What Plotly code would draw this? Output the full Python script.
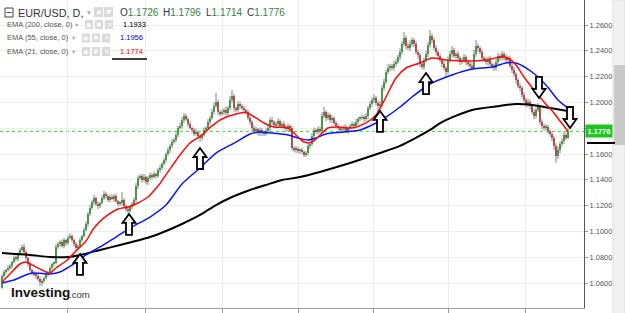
import plotly.graph_objects as go

# ---------------- data ----------------
FIRST_OPEN = 1.0565
CLOSE = [
    1.0655, 1.0686, 1.0702, 1.0717, 1.0732, 1.0763, 1.0795, 1.0787, 1.0826, 1.0857,
    1.0880, 1.0841, 1.0795, 1.0748, 1.0702, 1.0679, 1.0663, 1.0655, 1.0632, 1.0608,
    1.0616, 1.0640, 1.0671, 1.0686, 1.0717, 1.0748, 1.0756, 1.0880, 1.0903, 1.0919,
    1.0887, 1.0934, 1.0911, 1.0950, 1.0965, 1.0934, 1.0903, 1.0872, 1.0887, 1.0934,
    1.0965, 1.1012, 1.1058, 1.1136, 1.1182, 1.1228, 1.1260, 1.1213, 1.1197, 1.1221,
    1.1260, 1.1291, 1.1275, 1.1244, 1.1267, 1.1252, 1.1275, 1.1236, 1.1213, 1.1221,
    1.1244, 1.1197, 1.1174, 1.1159, 1.1190, 1.1213, 1.1244, 1.1353, 1.1415, 1.1430,
    1.1399, 1.1423, 1.1384, 1.1415, 1.1438, 1.1423, 1.1446, 1.1430, 1.1477, 1.1492,
    1.1523, 1.1554, 1.1601, 1.1632, 1.1663, 1.1694, 1.1709, 1.1748, 1.1802, 1.1818,
    1.1864, 1.1895, 1.1872, 1.1833, 1.1802, 1.1787, 1.1756, 1.1771, 1.1740, 1.1725,
    1.1748, 1.1787, 1.1802, 1.1849, 1.1880, 1.1926, 1.1973, 1.2004, 1.1926, 1.1911,
    1.1926, 1.1942, 1.1918, 1.1957, 1.2019, 1.2050, 1.1957, 1.1942, 1.1988, 1.1973,
    1.1957, 1.1942, 1.1926, 1.1880, 1.1849, 1.1802, 1.1779, 1.1794, 1.1763, 1.1787,
    1.1763, 1.1756, 1.1779, 1.1802, 1.1864, 1.1849, 1.1825, 1.1833, 1.1856, 1.1818,
    1.1833, 1.1810, 1.1794, 1.1818, 1.1802, 1.1647, 1.1632, 1.1640, 1.1624, 1.1632,
    1.1616, 1.1593, 1.1609, 1.1663, 1.1678, 1.1740, 1.1787, 1.1771, 1.1794, 1.1779,
    1.1895, 1.1926, 1.1880, 1.1903, 1.1864, 1.1880, 1.1841, 1.1818, 1.1802, 1.1787,
    1.1794, 1.1810, 1.1779, 1.1802, 1.1818, 1.1833, 1.1818, 1.1849, 1.1872, 1.1880,
    1.1887, 1.1872, 1.1895, 1.1957, 1.1988, 1.2019, 1.2035, 1.1996, 1.1973, 1.1988,
    1.2112, 1.2159, 1.2236, 1.2267, 1.2283, 1.2267, 1.2298, 1.2314, 1.2352, 1.2391,
    1.2453, 1.2500, 1.2438, 1.2422, 1.2453, 1.2484, 1.2453, 1.2391, 1.2368, 1.2298,
    1.2275, 1.2329, 1.2376, 1.2445, 1.2515, 1.2484, 1.2422, 1.2391, 1.2360, 1.2329,
    1.2298, 1.2267, 1.2236, 1.2329, 1.2376, 1.2407, 1.2360, 1.2376, 1.2345, 1.2314,
    1.2329, 1.2352, 1.2314, 1.2298, 1.2283, 1.2267, 1.2376, 1.2438, 1.2422, 1.2391,
    1.2345, 1.2329, 1.2314, 1.2337, 1.2298, 1.2283, 1.2267, 1.2314, 1.2360, 1.2345,
    1.2376, 1.2352, 1.2329, 1.2345, 1.2283, 1.2252, 1.2221, 1.2174, 1.2128, 1.2112,
    1.2058, 1.2019, 1.1988, 1.2004, 1.1973, 1.1926, 1.1895, 1.1942, 1.1965, 1.1849,
    1.1818, 1.1802, 1.1810, 1.1779, 1.1756, 1.1725, 1.1663, 1.1585, 1.1632, 1.1678,
    1.1701, 1.1748, 1.1726, 1.1776,
]
UP_WICK_PIPS = [
    12, 18, 10, 22, 15, 9, 20, 14, 11, 16,
    16, 25, 12, 8, 14, 10, 18, 9, 13, 20,
    15, 11, 19, 8, 14, 10, 12, 22, 17, 13,
    20, 15, 9, 18, 21, 12, 10, 16, 14, 19,
    11, 17, 20, 15, 22, 18, 24, 12, 16, 10,
    19, 25, 14, 11, 20, 16, 13, 18, 10, 15,
    62, 14, 12, 18, 10, 16, 21, 24, 19, 12,
    17, 22, 11, 15, 20, 13, 18, 10, 16, 23,
    14, 19, 12, 21, 17, 24, 15, 20, 18, 26,
    22, 23, 18, 14, 20, 12, 16, 25, 11, 18,
    15, 20, 13, 22, 17, 24, 26, 69, 18, 15,
    20, 14, 25, 18, 30, 47, 16, 12, 22, 19,
    14, 18, 11, 16, 20, 13, 22, 17, 10, 19,
    15, 12, 20, 24, 18, 26, 14, 19, 22, 13,
    17, 21, 15, 20, 12, 18, 14, 22, 16, 11,
    19, 13, 17, 21, 15, 24, 18, 12, 20, 16,
    28, 39, 14, 20, 17, 22, 12, 16, 19, 13,
    18, 15, 21, 11, 17, 20, 14, 23, 16, 12,
    19, 14, 22, 17, 25, 20, 28, 15, 18, 24,
    22, 26, 20, 30, 18, 16, 24, 21, 19, 28,
    25, 46, 18, 22, 27, 20, 15, 24, 19, 17,
    21, 18, 26, 23, 47, 20, 16, 22, 14, 19,
    17, 24, 15, 28, 22, 30, 18, 14, 21, 16,
    19, 23, 15, 20, 17, 22, 35, 46, 18, 14,
    20, 16, 22, 18, 25, 14, 19, 23, 27, 15,
    21, 17, 24, 13, 19, 16, 22, 14, 18, 20,
    15, 23, 17, 26, 19, 14, 21, 18, 30, 16,
    20, 14, 22, 17, 12, 19, 16, 21, 25, 18,
    22, 27, 18, 20,
]
DN_WICK_PIPS = [
    10, 14, 19, 12, 16, 21, 11, 15, 18, 9,
    13, 20, 16, 22, 14, 18, 12, 25, 17, 31,
    30, 16, 12, 19, 14, 22, 17, 10, 15, 20,
    12, 18, 23, 14, 10, 17, 21, 25, 16, 13,
    19, 14, 11, 22, 16, 13, 20, 18, 24, 15,
    12, 17, 21, 14, 19, 11, 23, 16, 20, 13,
    18, 15, 22, 20, 14, 19, 12, 17, 25, 16,
    21, 13, 18, 24, 15, 20, 11, 19, 14, 22,
    16, 12, 20, 15, 23, 18, 14, 21, 17, 13,
    19, 24, 15, 20, 12, 22, 17, 14, 25, 31,
    18, 13, 21, 16, 24, 15, 20, 12, 26, 19,
    14, 22, 17, 23, 15, 20, 28, 18, 13, 21,
    17, 24, 19, 14, 22, 26, 15, 20, 18, 23,
    21, 16, 13, 19, 25, 18, 22, 14, 20, 17,
    15, 19, 23, 17, 28, 20, 16, 24, 18, 22,
    14, 15, 15, 19, 22, 17, 24, 13, 20, 16,
    21, 18, 25, 15, 20, 23, 17, 19, 14, 22,
    16, 20, 13, 24, 18, 15, 21, 17, 23, 19,
    14, 22, 18, 25, 16, 20, 24, 19, 47, 21,
    18, 23, 15, 20, 26, 17, 22, 19, 14, 24,
    21, 18, 27, 16, 23, 20, 25, 19, 28, 22,
    17, 24, 20, 26, 18, 23, 19, 27, 21, 16,
    24, 20, 39, 18, 22, 27, 16, 23, 19, 25,
    18, 21, 26, 17, 23, 20, 15, 22, 28, 19,
    24, 18, 21, 27, 16, 22, 25, 19, 17, 23,
    20, 26, 18, 22, 17, 24, 21, 28, 19, 25,
    22, 18, 27, 20, 24, 19, 26, 21, 17, 23,
    25, 20, 18, 24, 21, 27, 30, 54, 22, 26,
    20, 23, 19, 12,
]

EMA200_AT = [0, 14, 24, 33, 39, 49, 59, 65, 74, 82, 90, 99, 107, 115, 124, 132, 140, 149,
             174, 189, 199, 206, 214, 220, 235, 249, 257, 265, 274, 283]
EMA200 = [1.0833, 1.0818, 1.0802, 1.0802, 1.0818, 1.0857, 1.0895, 1.0919, 1.0957, 1.1004,
          1.1058, 1.1128, 1.1205, 1.1267, 1.1322, 1.1360, 1.1399, 1.1422, 1.1531, 1.1608,
          1.1663, 1.1717, 1.1787, 1.1848, 1.1942, 1.1973, 1.1988, 1.1980, 1.1957, 1.1933]

EMA55_AT = [0, 6, 15, 24, 29, 35, 42, 49, 57, 65, 74, 82, 90, 99, 107, 117, 124, 129, 135, 143,
            148, 153, 157, 162, 171, 179, 185, 192, 199, 205, 214, 225, 235, 245, 252, 257,
            265, 272, 278, 283]
EMA55 = [1.0601, 1.0624, 1.0678, 1.0671, 1.0686, 1.0740, 1.0818, 1.0880, 1.0957, 1.1035,
         1.1112, 1.1205, 1.1368, 1.1492, 1.1608, 1.1693, 1.1756, 1.1771, 1.1763, 1.1748,
         1.1725, 1.1709, 1.1725, 1.1756, 1.1771, 1.1787, 1.1825, 1.1887, 1.1965, 1.2042,
         1.2143, 1.2213, 1.2259, 1.2275, 1.2306, 1.2306, 1.2236, 1.2135, 1.2019, 1.1956]

EMA21_AT = [0, 4, 9, 12, 16, 20, 24, 27, 32, 37, 42, 46, 51, 58, 63, 68, 73, 78, 83, 89,
            94, 100, 105, 110, 117, 122, 127, 131, 136, 143, 148, 151, 155, 158, 163, 168,
            175, 182, 187, 192, 197, 202, 209, 215, 222, 232, 242, 249, 253, 257, 261, 266,
            271, 276, 279, 281, 283]
EMA21 = [1.0609, 1.0671, 1.0748, 1.0764, 1.0733, 1.0702, 1.0678, 1.0717, 1.0771, 1.0849,
         1.0926, 1.1027, 1.1105, 1.1174, 1.1190, 1.1221, 1.1267, 1.1352, 1.1462, 1.1593,
         1.1686, 1.1748, 1.1818, 1.1872, 1.1910, 1.1922, 1.1880, 1.1841, 1.1810, 1.1802,
         1.1732, 1.1693, 1.1693, 1.1732, 1.1802, 1.1810, 1.1802, 1.1841, 1.1903, 1.2042,
         1.2190, 1.2267, 1.2306, 1.2345, 1.2329, 1.2321, 1.2329, 1.2352, 1.2345, 1.2290,
         1.2197, 1.2097, 1.2004, 1.1918, 1.1856, 1.1818, 1.1774]

Y_TICKS = [1.06, 1.08, 1.10, 1.12, 1.14, 1.16, 1.18, 1.20, 1.22, 1.24, 1.26]
HIDDEN_TICK = 1.18
MONTH_TICKS = [32.5, 71.5, 110, 148, 185.5, 223, 261.5]
LAST_PRICE = 1.1776
SYMBOL = "EUR/USD, D,"
OHLC = [("O", "1.1726"), ("H", "1.1796"), ("L", "1.1714"), ("C", "1.1776")]
EMA_LEGEND = [("EMA (200, close, 0)", "1.1933", "#000000"),
              ("EMA (55, close, 0)", "1.1956", "#0000ff"),
              ("EMA (21, close, 0)", "1.1774", "#ff0000")]
# signal arrows: (candle index, price at tip, direction)
ARROWS = [(39, 1.0826, "up"), (63.5, 1.1136, "up"), (99, 1.1647, "up"),
          (189, 1.1934, "up"), (212, 1.2228, "up"),
          (268.5, 1.2035, "down"), (284, 1.1802, "down")]

assert len(CLOSE) == len(UP_WICK_PIPS) == len(DN_WICK_PIPS)
assert len(EMA200_AT) == len(EMA200) and len(EMA55_AT) == len(EMA55) and len(EMA21_AT) == len(EMA21)

# ---------------- geometry ----------------
W, H = 625, 313
PLOT_W, PLOT_H = 584, 308
X_RANGE = [-1, 291]
Y_RANGE = [1.0407, 1.2794]
UX = (X_RANGE[1] - X_RANGE[0]) / PLOT_W      # data units per px (x)
UY = (Y_RANGE[1] - Y_RANGE[0]) / PLOT_H      # data units per px (y)

GREEN = "#12a812"
RED = "#d91818"
WICK = "#858585"

n = len(CLOSE)
idx = list(range(n))
opens = [FIRST_OPEN] + CLOSE[:-1]
highs = [max(o, c) + u * 0.0001 for o, c, u in zip(opens, CLOSE, UP_WICK_PIPS)]
lows = [min(o, c) - d * 0.0001 for o, c, d in zip(opens, CLOSE, DN_WICK_PIPS)]

fig = go.Figure()

# wicks
wx, wy = [], []
for i, lo, hi in zip(idx, lows, highs):
    wx += [i, i, None]
    wy += [lo, hi, None]
fig.add_trace(go.Scatter(x=wx, y=wy, mode="lines", line=dict(color=WICK, width=1),
                         hoverinfo="skip", showlegend=False))
# bodies
fig.add_trace(go.Bar(
    x=idx,
    base=[min(o, c) for o, c in zip(opens, CLOSE)],
    y=[max(abs(c - o), 0.00012) for o, c in zip(opens, CLOSE)],
    width=1.1,
    marker=dict(color=[GREEN if c >= o else RED for o, c in zip(opens, CLOSE)], line=dict(width=0)),
    showlegend=False, hoverinfo="skip"))

fig.add_trace(go.Scatter(x=EMA200_AT, y=EMA200, mode="lines",
                         line=dict(color="#000000", width=2, shape="spline", smoothing=0.8),
                         showlegend=False, hoverinfo="skip"))
fig.add_trace(go.Scatter(x=EMA55_AT, y=EMA55, mode="lines",
                         line=dict(color="#0a14ff", width=1.5, shape="spline", smoothing=0.8),
                         showlegend=False, hoverinfo="skip"))
fig.add_trace(go.Scatter(x=EMA21_AT, y=EMA21, mode="lines",
                         line=dict(color="#ff0a0a", width=1.5, shape="spline", smoothing=0.8),
                         showlegend=False, hoverinfo="skip"))


def px(xp, yp):
    """pixel position of the page -> paper coordinates"""
    return xp / PLOT_W, (PLOT_H - yp) / PLOT_H


shapes = []
# last price dotted line
shapes.append(dict(type="line", xref="paper", yref="y", x0=0, x1=1, y0=LAST_PRICE, y1=LAST_PRICE,
                   line=dict(color="#1fe01f", width=1, dash="dot"), layer="below"))

# arrows
for ai, ap, ad in ARROWS:
    s = 1 if ad == "up" else -1
    pts = [(0, 0), (6.5, 9), (3, 9), (3, 21), (-3, 21), (-3, 9), (-6.5, 9)]
    coords = [(ai + dx * UX, ap - s * dy * UY) for dx, dy in pts]
    path = "M " + " L ".join(f"{x:.4f},{y:.5f}" for x, y in coords) + " Z"
    shapes.append(dict(type="path", xref="x", yref="y", path=path,
                       fillcolor="white", line=dict(color="black", width=1.8), layer="above"))

# scrollbar at right
x0, _ = px(613, 0)
x1, _ = px(625, 0)
shapes.append(dict(type="rect", xref="paper", yref="paper", x0=x0, x1=x1, y0=-0.02, y1=1,
                   fillcolor="#f1f1f1", line=dict(color="#dedede", width=1)))
_, hy0 = px(0, 145)
_, hy1 = px(0, 65)
shapes.append(dict(type="rect", xref="paper", yref="paper", x0=x0 + 0.002, x1=x1, y0=hy0, y1=hy1,
                   fillcolor="#c9c9c9", line=dict(width=0)))
# black marker lines
bx0, by = px(587, 143)
bx1, _ = px(615, 143)
shapes.append(dict(type="line", xref="paper", yref="paper", x0=bx0, x1=bx1, y0=by, y1=by,
                   line=dict(color="black", width=2)))
lx0, ly = px(112, 59)
lx1, _ = px(147, 59)
shapes.append(dict(type="line", xref="paper", yref="paper", x0=lx0, x1=lx1, y0=ly, y1=ly,
                   line=dict(color="black", width=1.5)))

# collapse box glyph
cx0, cy0 = px(5, 17)
cx1, cy1 = px(13, 8)
shapes.append(dict(type="rect", xref="paper", yref="paper", x0=cx0, x1=cx1, y0=cy0, y1=cy1,
                   line=dict(color="#444", width=1), fillcolor="white"))
mx0, my = px(6.5, 12.5)
mx1, _ = px(11.5, 12.5)
shapes.append(dict(type="line", xref="paper", yref="paper", x0=mx0, x1=mx1, y0=my, y1=my,
                   line=dict(color="#444", width=1)))

annotations = []


def text(xp, yp, t, size, color, family="Liberation Sans", anchor="left"):
    ax, ay = px(xp, yp)
    annotations.append(dict(xref="paper", yref="paper", x=ax, y=ay, text=t, showarrow=False,
                            xanchor=anchor, yanchor="middle",
                            font=dict(size=size, color=color, family=family)))


def icon_squares(xs, y_top, y_bot):
    glyphs = ["◉", "✱", "✕"]
    for k, (a, b) in enumerate(xs):
        qx0, qy0 = px(a, y_bot)
        qx1, qy1 = px(b, y_top)
        shapes.append(dict(type="rect", xref="paper", yref="paper", x0=qx0, x1=qx1, y0=qy0, y1=qy1,
                           fillcolor="#dadada", line=dict(width=0)))
        text((a + b) / 2, (y_top + y_bot) / 2, glyphs[k], 6.5, "white",
             family="DejaVu Sans", anchor="center")


# legend line 1
text(15.5, 12.5, SYMBOL, 10.8, "#333333")
text(84.5, 12, "▾", 7.5, "#aaaaaa", family="DejaVu Sans")
icon_squares([(94, 103), (104, 113)], 7, 17)
ohlc_x = [118, 161, 204, 245]
for xp, (lab, val) in zip(ohlc_x, OHLC):
    text(xp, 12.5, f"{lab}<span style='color:#3b7f45'>{val}</span>", 10, "#333333")

# EMA legend lines
ema_rows = [(24.5, 73, [(85, 93), (95, 103), (105, 113)], 121),
            (38, 70, [(82, 90), (92, 100), (102, 110)], 117.5),
            (51.5, 70, [(82, 90), (92, 100), (102, 110)], 117.5)]
for (label, val, col), (yy, ax_, sq, vx) in zip(EMA_LEGEND, ema_rows):
    text(4.5, yy, label, 7.5, "#555555")
    text(ax_, yy, "▾", 6.5, "#aaaaaa", family="DejaVu Sans")
    icon_squares(sq, yy - 4.5, yy + 4.5)
    text(vx, yy, val, 7.5, col)

# logo
text(9, 292.5, "<b>Investing</b>", 13.5, "#111111")
text(67, 294.5, ".com", 9.5, "#333333")

# last price tag on the axis
annotations.append(dict(xref="paper", yref="y", x=1, y=LAST_PRICE, xanchor="left", yanchor="middle",
                        xshift=1, text="<b>1.1776</b>", showarrow=False, bgcolor="#20c520",
                        borderpad=1.5, font=dict(size=7.5, color="white", family="Liberation Sans")))

fig.update_layout(
    width=W, height=H,
    margin=dict(l=0, r=W - PLOT_W, t=0, b=H - PLOT_H),
    paper_bgcolor="white", plot_bgcolor="white",
    showlegend=False, bargap=0,
    shapes=shapes, annotations=annotations,
    xaxis=dict(range=X_RANGE, tickvals=MONTH_TICKS, showticklabels=False, ticks="outside",
               ticklen=5, tickcolor="#999999", showgrid=True, gridcolor="#eeeeee", gridwidth=1,
               zeroline=False, showline=True, linecolor="#a0a0a0", linewidth=1, fixedrange=True),
    yaxis=dict(range=Y_RANGE, side="right", tickvals=Y_TICKS,
               ticktext=["" if abs(v - HIDDEN_TICK) < 1e-9 else f"{v:.4f}" for v in Y_TICKS],
               ticks="outside", ticklen=3, tickcolor="#999999",
               tickfont=dict(size=7.5, color="#555555", family="Liberation Sans"),
               showgrid=True, gridcolor="#eeeeee", gridwidth=1, zeroline=False,
               showline=True, linecolor="#555555", linewidth=1, fixedrange=True),
)

fig.write_html("out.html")
